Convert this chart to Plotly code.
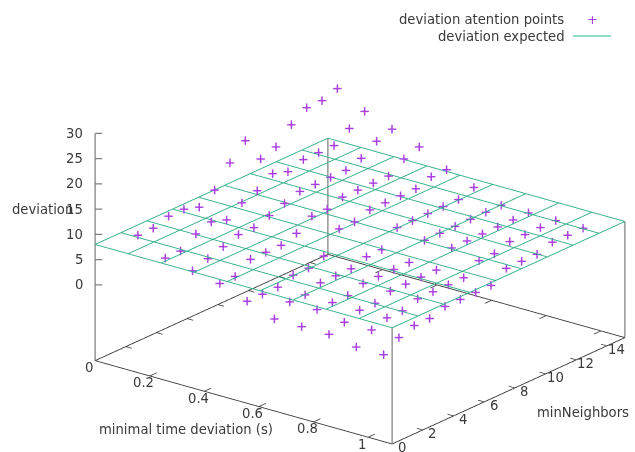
import plotly.graph_objects as go

# ---- data ----
time_deviation = [0.1, 0.2, 0.3, 0.4, 0.5, 0.6, 0.7, 0.8, 0.9, 1.0]
min_neighbors = [1, 2, 3, 4, 5, 6, 7, 8, 9, 10, 11, 12, 13, 14]
dev_t01 = [10, 10, 11, 11, 10, 12, 16, 19, 14, 15, 18, 20, 20, 21]
dev_t02 = [7, 7, 9, 10, 9, 11, 12, 14, 13, 14, 14, 14, 16, 18]
dev_t03 = [6, 7, 8, 9, 9, 10, 11, 12, 12, 12, 12, 13, 15, 16]
dev_t04 = [5, 5, 7, 7, 7, 8, 10, 10, 11, 11, 11, 11, 13, 14]
dev_t05 = [3, 3, 3, 4, 4, 5, 9, 9, 10, 10, 10, 10, 11, 11]
dev_t06 = [1, 3, 3, 4, 4, 4, 5, 5, 8, 8, 8, 8, 8, 9]
dev_t07 = [1, 3, 3, 3, 4, 4, 4, 4, 7, 7, 7, 7, 7, 7]
dev_t08 = [1, 2, 3, 3, 4, 4, 4, 4, 7, 7, 7, 7, 7, 7]
dev_t09 = [0, 2, 3, 3, 4, 4, 4, 4, 6, 6, 7, 7, 7, 7]
dev_t10 = [0, 2, 3, 3, 4, 4, 4, 4, 6, 6, 6, 7, 7, 7]
deviation_rows = [dev_t01, dev_t02, dev_t03, dev_t04, dev_t05,
                  dev_t06, dev_t07, dev_t08, dev_t09, dev_t10]

expected_deviation = 8
iso_x = [0, 0.121, 0.242, 0.363, 0.484, 0.604, 0.725, 0.846, 0.967, 1.088]
iso_y = [0, 1.686, 3.371, 5.057, 6.742, 8.428, 10.113, 11.799, 13.484, 15.17]

x_ticks = [0, 0.2, 0.4, 0.6, 0.8, 1]
x_tick_labels = ["0", "0.2", "0.4", "0.6", "0.8", "1"]
y_ticks = [0, 2, 4, 6, 8, 10, 12, 14]
z_ticks = [0, 5, 10, 15, 20, 25, 30]

x_max, y_max = 1.088, 15.17
z_base, z_max = -15, 30
PAD = 0.01  # keeps border lines off the clipping planes

W, H = 635, 452
FONT = "DejaVu Sans"
FS = 13.2
TEXT = "#3a3a3a"
POINT = "#a93fe0"
SURF = "#2fae8a"
BORDER = "#333333"
VERT = "#808080"

fig = go.Figure()


def line3d(xs, ys, zs, color, width):
    fig.add_trace(go.Scatter3d(x=xs, y=ys, z=zs, mode="lines",
                               line=dict(color=color, width=width),
                               hoverinfo="skip", showlegend=False))


# base rectangle
line3d([0, x_max, x_max, 0, 0], [0, 0, y_max, y_max, 0],
       [z_base] * 5, BORDER, 1.7)
# verticals
line3d([0, 0], [0, 0], [z_base, z_max], VERT, 2.5)
line3d([x_max, x_max], [0, 0], [z_base, expected_deviation], VERT, 2.5)
line3d([x_max, x_max], [y_max, y_max], [z_base, expected_deviation], VERT, 2.5)
line3d([0, 0], [y_max, y_max], [z_base, expected_deviation], VERT, 2.5)

# ticks
for t in x_ticks[1:]:
    line3d([t, t], [0, 0.45], [z_base] * 2, BORDER, 1.5)
    line3d([t, t], [y_max, y_max - 0.45], [z_base] * 2, BORDER, 1.5)
for t in y_ticks[1:]:
    line3d([x_max, x_max - 0.022], [t, t], [z_base] * 2, BORDER, 1.5)
    line3d([0, 0.022], [t, t], [z_base] * 2, BORDER, 1.5)
for t in z_ticks:
    line3d([0, 0.016], [0, 0.173], [t, t], VERT, 2.5)

# expected surface
for xv in iso_x:
    line3d([xv] * 2, [0, y_max], [expected_deviation] * 2, SURF, 1.8)
for yv in iso_y:
    line3d([0, x_max], [yv] * 2, [expected_deviation] * 2, SURF, 1.8)

# attention points
px, py, pz = [], [], []
for tv, row in zip(time_deviation, deviation_rows):
    for nv, dv in zip(min_neighbors, row):
        px.append(tv)
        py.append(nv)
        pz.append(dv)
fig.add_trace(go.Scatter3d(x=px, y=py, z=pz, mode="markers",
                           marker=dict(symbol="cross", size=4.5, color=POINT,
                                       line=dict(width=0.7, color=POINT)),
                           name="deviation atention points", showlegend=False))

# tick labels as scene annotations
ann3d = []
common = dict(showarrow=False, font=dict(family=FONT, size=FS, color=TEXT))
for t, s in zip(z_ticks, [str(v) for v in z_ticks]):
    ann3d.append(dict(x=0, y=0, z=t, text=s, xanchor="right", yanchor="middle",
                      xshift=-10, yshift=0, **common))
for t, s in zip(x_ticks, x_tick_labels):
    ann3d.append(dict(x=t, y=0, z=z_base, text=s, xanchor="center", yanchor="middle",
                      xshift=-6, yshift=-7, **common))
for t in y_ticks:
    ann3d.append(dict(x=x_max, y=t, z=z_base, text=str(t), xanchor="center", yanchor="middle",
                      xshift=9.5, yshift=-3.5, **common))

hidden = dict(visible=False, showgrid=False, zeroline=False, showticklabels=False,
              showbackground=False, showspikes=False)

D = 2.0
S = 1.743
pad_x = PAD * x_max
pad_y = PAD * y_max
pad_z = PAD * (z_max - z_base)
fig.update_layout(
    width=W, height=H, margin=dict(l=0, r=0, t=0, b=0),
    paper_bgcolor="white", showlegend=False,
    scene=dict(
        domain=dict(x=[85 / W, 1], y=[0, 1 - 19 / H]),
        xaxis=dict(range=[-pad_x, x_max + pad_x], **hidden),
        yaxis=dict(range=[-pad_y, y_max + pad_y], **hidden),
        zaxis=dict(range=[z_base - pad_z, z_max + pad_z], **hidden),
        aspectmode="manual",
        aspectratio=dict(x=S * (1 + 2 * PAD), y=S * (1 + 2 * PAD), z=S * 0.645 * (1 + 2 * PAD)),
        camera=dict(projection=dict(type="orthographic"),
                    up=dict(x=0, y=0, z=1), center=dict(x=0, y=0, z=0),
                    eye=dict(x=0.576 * D, y=-0.735 * D, z=0.358 * D)),
        annotations=ann3d,
    ),
)


def paper_text(px_x, px_y, text, anchor):
    fig.add_annotation(xref="paper", yref="paper", x=px_x / W, y=1 - px_y / H, text=text,
                       showarrow=False, xanchor=anchor, yanchor="middle",
                       font=dict(family=FONT, size=FS, color=TEXT))


paper_text(186, 429, "minimal time deviation (s)", "center")
paper_text(583, 412, "minNeighbors", "center")
paper_text(42, 210, "deviation", "center")
paper_text(566, 19, "deviation atention points", "right")
paper_text(567, 36, "deviation expected", "right")
fig.add_annotation(xref="paper", yref="paper", x=592 / W, y=1 - 19.5 / H, text="+",
                   showarrow=False, xanchor="center", yanchor="middle",
                   font=dict(family=FONT, size=13, color=POINT))
fig.add_shape(type="line", xref="paper", yref="paper",
              x0=573 / W, x1=611 / W, y0=1 - 36 / H, y1=1 - 36 / H,
              line=dict(color="#6fd0b5", width=1.5))

fig.write_html("out.html", post_script="document.body.style.margin='0';",
               config={"displayModeBar": False})
